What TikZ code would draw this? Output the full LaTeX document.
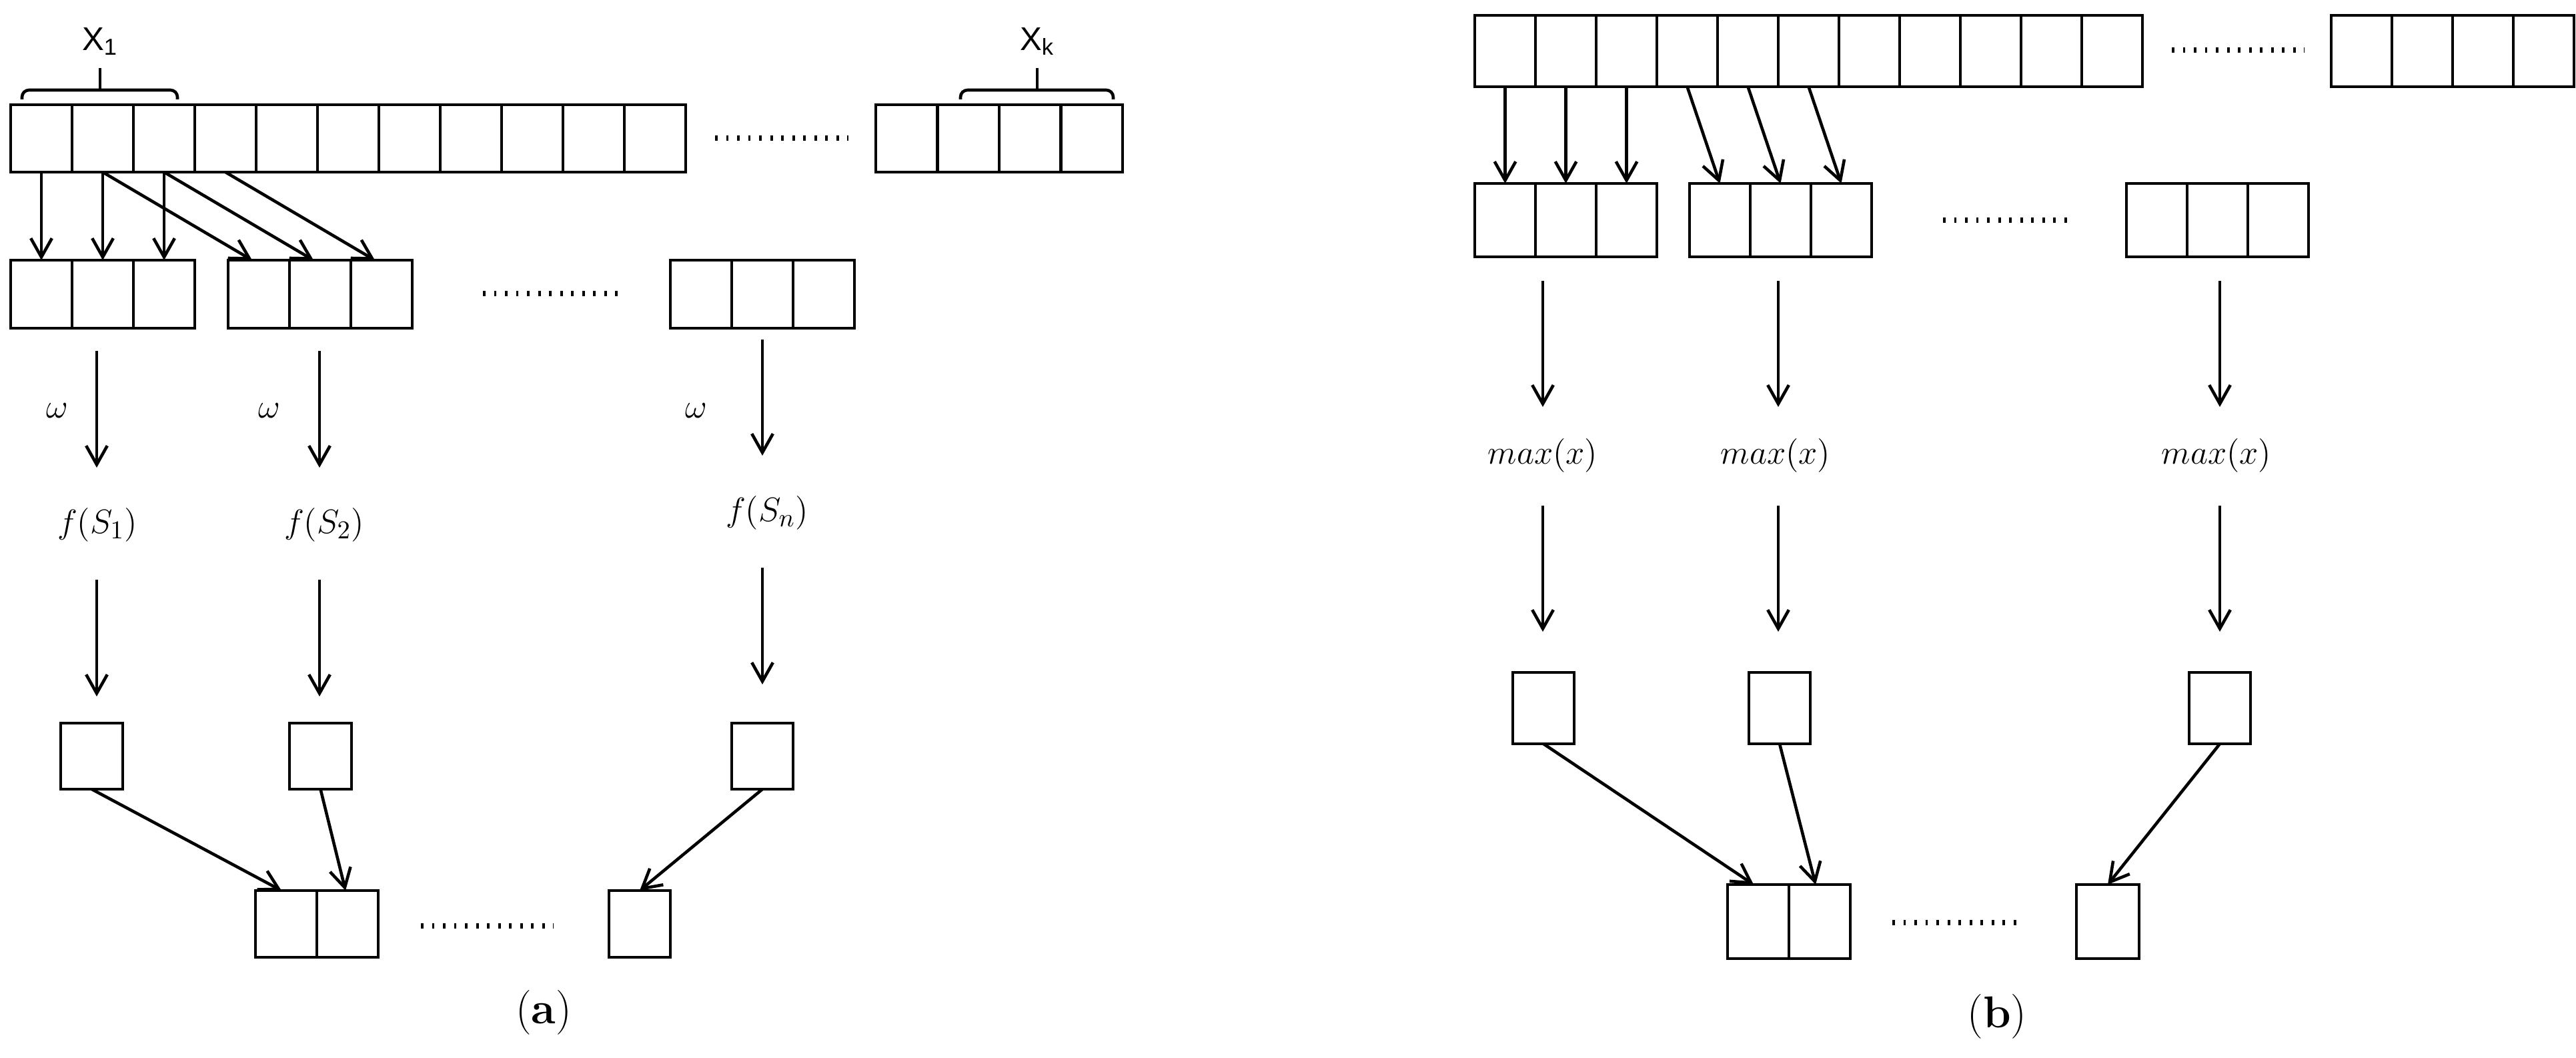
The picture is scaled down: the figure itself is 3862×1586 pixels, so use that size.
\documentclass[tikz,border=0pt]{standalone}
\usepackage{fontspec}
\newfontfamily\sansf{Liberation Sans}
\usetikzlibrary{arrows.meta,calc}
\begin{document}
\begin{tikzpicture}[x=0.01cm,y=-0.01cm,line width=1.3pt,
  cell/.style={draw,line width=1.3pt,inner sep=0,outer sep=0,anchor=north west},
  ca/.style={cell,minimum width=0.92cm,minimum height=1.01cm},
  cb/.style={cell,minimum width=0.91cm,minimum height=1.07cm},
  cb2/.style={cell,minimum width=0.91cm,minimum height=1.10cm},
  arr/.style={-{Straight Barb[length=8pt,width=9pt,line width=1.3pt]},line width=1.3pt},
  dots/.style={line width=2.2pt,dash pattern=on 1.1pt off 3.6pt},
  lab/.style={font=\fontsize{15}{18}\selectfont,inner sep=0},
  sl/.style={font=\fontsize{14}{16}\selectfont\sansf,inner sep=0}]
\useasboundingbox (0,0) rectangle (3862,1586);
% ===== panel (a) =====
\foreach \i in {0,...,10} \node[ca] (at\i) at (16+92*\i,157) {};
\foreach \i in {0,...,3} \node[ca,minimum width=0.925cm] (ar\i) at (1313+92.5*\i,157) {};
\coordinate (ad1a) at (1072,207); \coordinate (ad1b) at (1272,207);
\draw[dots] (ad1a) -- (ad1b);
\foreach \g/\x in {1/16,2/342,3/1005} \foreach \j in {0,1,2} \node[ca,minimum height=1.02cm] (ag\g\j) at (\x+92*\j,390) {};
\coordinate (ad2a) at (724,440); \coordinate (ad2b) at (927,440);
\draw[dots] (ad2a) -- (ad2b);
% braces
\coordinate (bx1) at (150,102); \coordinate (bxk) at (1555,102);
\draw[rounded corners=3pt] (33,149) -- (33,135) -- (266,135) -- (266,149);
\draw (bx1) -- (150,135);
\draw[rounded corners=3pt] (1440,149) -- (1440,135) -- (1669,135) -- (1669,149);
\draw (bxk) -- (1555,135);
\node[sl] (X1) at (150,62) {X\textsubscript{1}};
\node[sl] (Xk) at (1555,62) {X\textsubscript{k}};
% arrows top->second
\foreach \j in {0,1,2} \draw[arr] (at\j.south) -- (ag1\j.north);
\draw[arr] (at1.south) -- ([xshift=-0.1cm]ag20.north);
\draw[arr] (at2.south) -- ([xshift=-0.1cm]ag21.north);
\draw[arr] (at3.south) -- ([xshift=-0.1cm]ag22.north);
% columns
\foreach \k/\x/\ya/\yb/\yf/\yc/\yd in {1/145/526/701/787/869/1044, 2/479/526/701/787/869/1044, 3/1143/509/683/769/851/1026}{
  \coordinate (aca\k) at (\x,\ya); \coordinate (acb\k) at (\x,\yb);
  \coordinate (acc\k) at (\x,\yc); \coordinate (acd\k) at (\x,\yd);
  \draw[arr] (aca\k) -- (acb\k);
  \draw[arr] (acc\k) -- (acd\k);
}
\node[lab] (w1) at (86,616) {$\omega$};
\node[lab] (w2) at (404,616) {$\omega$};
\node[lab] (w3) at (1044,616) {$\omega$};
\node[lab] (f1) at (146,787) {$f(S_1)$};
\node[lab] (f2) at (486,787) {$f(S_2)$};
\node[lab] (f3) at (1150,769) {$f(S_n)$};
\node[cell,minimum width=0.93cm,minimum height=0.99cm] (as1) at (91,1084) {};
\node[cell,minimum width=0.93cm,minimum height=0.99cm] (as2) at (434,1084) {};
\node[cell,minimum width=0.92cm,minimum height=0.99cm] (as3) at (1097,1084) {};
\node[cell,minimum width=0.92cm,minimum height=1.0cm] (ab1) at (383,1335) {};
\node[cell,minimum width=0.92cm,minimum height=1.0cm] (ab2) at (475,1335) {};
\node[cell,minimum width=0.92cm,minimum height=1.0cm] (ab3) at (913,1335) {};
\coordinate (ad3a) at (631,1388); \coordinate (ad3b) at (830,1388);
\draw[dots] (ad3a) -- (ad3b);
\draw[arr] (as1.south) -- ([xshift=-0.07cm]ab1.north);
\draw[arr] (as2.south) -- ([xshift=-0.03cm]ab2.north);
\draw[arr] (as3.south) -- (ab3.north);
\node[font=\fontsize{19}{22}\selectfont,inner sep=0] (capa) at (815,1518) {(\textbf{a})};
% ===== panel (b) =====
\foreach \i in {0,...,10} \node[cb] (bt\i) at (2211+91*\i,23) {};
\foreach \i in {0,...,3} \node[cb] (br\i) at (3495+91*\i,23) {};
\coordinate (bd1a) at (3256,75); \coordinate (bd1b) at (3455,75);
\draw[dots] (bd1a) -- (bd1b);
\foreach \g/\x in {1/2211,2/2533,3/3188} \foreach \j in {0,1,2} \node[cb2] (bg\g\j) at (\x+91*\j,275) {};
\coordinate (bd2a) at (2913,330); \coordinate (bd2b) at (3108,330);
\draw[dots] (bd2a) -- (bd2b);
\foreach \j in {0,1,2} \draw[arr] (bt\j.south) -- (bg1\j.north);
\draw[arr] (bt3.south) -- (bg20.north);
\draw[arr] (bt4.south) -- (bg21.north);
\draw[arr] (bt5.south) -- (bg22.north);
\foreach \k/\x in {1/2313,2/2666,3/3328}{
  \coordinate (bca\k) at (\x,421); \coordinate (bcb\k) at (\x,610);
  \coordinate (bcc\k) at (\x,758); \coordinate (bcd\k) at (\x,947);
  \draw[arr] (bca\k) -- (bcb\k);
  \draw[arr] (bcc\k) -- (bcd\k);
}
\node[lab] (m1) at (2313,683) {$max(x)$};
\node[lab] (m2) at (2662,683) {$max(x)$};
\node[lab] (m3) at (3323,683) {$max(x)$};
\node[cell,minimum width=0.92cm,minimum height=1.07cm] (bs1) at (2268,1008) {};
\node[cell,minimum width=0.92cm,minimum height=1.07cm] (bs2) at (2622,1008) {};
\node[cell,minimum width=0.92cm,minimum height=1.07cm] (bs3) at (3282,1008) {};
\node[cell,minimum width=0.92cm,minimum height=1.11cm] (bb1) at (2590,1326) {};
\node[cell,minimum width=0.92cm,minimum height=1.11cm] (bb2) at (2682,1326) {};
\node[cell,minimum width=0.94cm,minimum height=1.11cm] (bb3) at (3113,1326) {};
\coordinate (bd3a) at (2837,1383); \coordinate (bd3b) at (3034,1383);
\draw[dots] (bd3a) -- (bd3b);
\draw[arr] (bs1.south) -- ([xshift=-0.07cm]bb1.north);
\draw[arr] (bs2.south) -- ([xshift=-0.06cm]bb2.north);
\draw[arr] (bs3.south) -- (bb3.north);
\node[font=\fontsize{19}{22}\selectfont,inner sep=0] (capb) at (2994,1524) {(\textbf{b})};
\end{tikzpicture}
\end{document}
